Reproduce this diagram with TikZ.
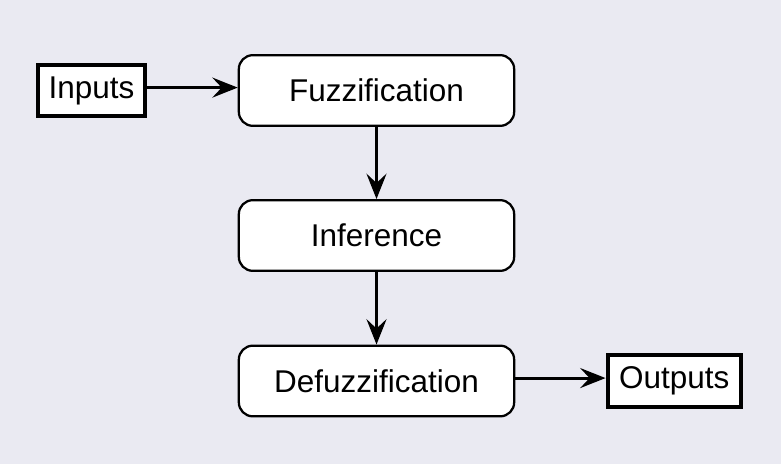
\documentclass[tikz,border=0pt]{standalone}
\usepackage{fontspec}
\setmainfont{Liberation Sans}
\usepackage{xcolor}
\usetikzlibrary{arrows.meta}

\definecolor{bgpanel}{RGB}{234,234,242}

\tikzset{
  stagebox/.style={draw=black, fill=white, line width=1.7pt, rounded corners=10.5pt,
    minimum width=206.5pt, minimum height=53pt, inner sep=0pt, font=\fontsize{23.6}{28}\selectfont},
  iobox/.style={draw=black, fill=white, line width=3pt, inner sep=0pt,
    font=\fontsize{23.6}{28}\selectfont},
  flow/.style={line width=2.2pt, -{Stealth[length=19pt,width=15pt,inset=7pt]}}
}

\begin{document}
\begin{tikzpicture}[x=0.75pt,y=0.75pt,yscale=-1,xscale=1]
%background panel
\fill [bgpanel] (0,0) rectangle (781,464);
\useasboundingbox (0,0) rectangle (781,464);

% Stage boxes
\node [stagebox] (fuzz) at (376.5,90.5) {Fuzzification};
\node [stagebox] (infer) at (376.5,235.5) {Inference};
\node [stagebox] (defuzz) at (376.5,381) {Defuzzification};

% Input and output boxes
\node [iobox, minimum width=80pt, minimum height=38pt] (inputs) at (91.4,90.8) {Inputs};
\node [iobox, minimum width=100pt, minimum height=38.5pt] (outputs) at (674.2,381) {Outputs};

% Connectors
\draw [flow] ([yshift=-2.4pt]inputs.east) -- ([yshift=-2.4pt]inputs.east -| fuzz.west);
\draw [flow] (fuzz) -- (infer);
\draw [flow] (infer) -- (defuzz);
\draw [flow] ([yshift=-2.2pt]defuzz.east) -- ([yshift=-2.2pt]defuzz.east -| outputs.west);

\end{tikzpicture}
\end{document}
